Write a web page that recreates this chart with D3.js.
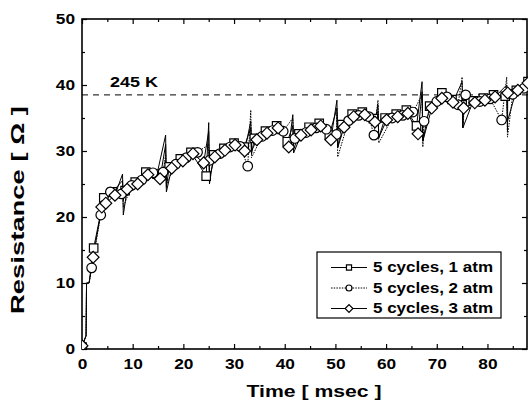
<!DOCTYPE html>
<html lang="en">
<head>
<meta charset="utf-8">
<title>Resistance vs time</title>
<script src="https://cdn.jsdelivr.net/npm/d3@7"></script>
<style>
  body { margin: 0; background: #fff; }
  svg { display: block; }
  .tick text { font-family: Arial, "Liberation Sans", sans-serif; font-weight: bold; font-size: 15px; fill: #000; }
  .tick line { stroke: #000; stroke-width: 1.2; }
  .title { font-family: Arial, "Liberation Sans", sans-serif; font-weight: bold; fill: #000; }
  .series { fill: none; stroke: #000; stroke-width: 1; }
  .mark { fill: #fff; stroke: #000; stroke-width: 1.2; }
</style>
</head>
<body>
<div id="chart"></div>
<script>
// ---- data ----
var xTicks = [0, 10, 20, 30, 40, 50, 60, 70, 80];
var yTicks = [0, 10, 20, 30, 40, 50];
var seriesNames = ["5 cycles, 1 atm", "5 cycles, 2 atm", "5 cycles, 3 atm"];
var refLevel = 38.5;
var refLabel = "245 K";

// initial rise shared by all runs
var riseT = [0.8, 0.9, 1.4];
var riseV = [2, 10, 10];

// spike (pulse) times
var spikeT = [8.0, 16.5, 25.0, 33.3, 41.6, 50.3, 58.4, 67.1, 75.0, 83.8];

// 1 atm (squares)
var t1 = [0, 2.3, 4.3, 6.0, 8.5, 10.5, 12.6, 14.8, 17.2, 19.4, 21.5, 24.5, 26.0, 28.0, 30.0, 32.0, 34.0, 36.2, 38.4, 40.5, 42.8, 44.8, 46.8, 48.8, 51.3, 53.3, 55.3, 57.5, 59.8, 62.0, 64.0, 66.0, 68.6, 71.0, 73.0, 75.0, 77.2, 79.2, 81.2, 83.5, 85.7, 88];
var r1 = [0.3, 15.3, 22.9, 23.8, 24.0, 25.3, 26.8, 26.5, 27.6, 28.8, 29.8, 26.2, 29.4, 30.4, 31.2, 30.6, 31.9, 33.0, 33.8, 31.4, 32.6, 33.6, 34.2, 32.4, 34.0, 35.6, 35.9, 34.9, 35.0, 35.6, 36.2, 33.8, 36.8, 38.8, 37.8, 37.0, 37.6, 38.0, 38.5, 38.3, 39.2, 40.5];
var up1 = [25.5, 32.4, 34.3, 33.5, 33.8, 36.5, 36.0, 40.5, 38.5, 39.5];
var dn1 = [22.5, 24.5, 25.0, 29.5, 30.2, 30.5, 32.0, 31.5, 33.5, 34.5];

// 2 atm (circles)
var t2 = [0, 1.9, 3.7, 5.6, 7.8, 9.8, 11.8, 14.0, 16.0, 18.5, 20.6, 22.8, 25.2, 27.2, 29.2, 31.2, 32.7, 35.5, 37.6, 39.7, 42.0, 44.2, 46.2, 48.2, 50.2, 52.6, 54.6, 56.6, 57.6, 61.2, 63.3, 65.3, 67.5, 70.0, 72.0, 74.2, 75.7, 78.5, 80.5, 82.8, 85.0, 87.2];
var r2 = [0.4, 12.3, 20.3, 23.8, 23.5, 24.8, 25.6, 26.7, 26.8, 28.0, 29.0, 29.8, 28.6, 29.6, 30.6, 30.7, 27.7, 32.2, 33.1, 33.0, 31.9, 32.8, 33.5, 33.3, 32.5, 34.6, 35.4, 35.2, 32.4, 35.0, 35.4, 35.9, 34.5, 37.5, 38.2, 37.0, 38.5, 37.5, 37.9, 34.7, 38.6, 39.5];
var up2 = [24.5, 29.5, 31.0, 36.2, 35.0, 35.8, 37.7, 38.5, 41.2, 41.2];
var dn2 = [21.5, 25.0, 26.5, 29.0, 31.0, 29.1, 31.2, 30.6, 34.0, 32.1];

// 3 atm (diamonds)
var t3 = [0, 2.2, 3.9, 4.7, 6.5, 8.9, 11.0, 13.0, 15.4, 17.7, 19.9, 21.9, 24.0, 26.2, 28.2, 30.2, 32.1, 34.5, 36.5, 38.7, 40.8, 43.2, 45.2, 47.1, 49.1, 51.7, 53.6, 55.8, 57.8, 60.1, 62.3, 64.3, 66.3, 69.0, 71.0, 73.2, 75.3, 77.5, 79.5, 81.5, 84.0, 86.0, 88];
var r3 = [0.5, 13.9, 21.5, 22.1, 23.3, 24.2, 25.0, 26.4, 25.8, 27.4, 28.5, 29.6, 28.2, 29.1, 30.1, 30.9, 30.0, 31.7, 32.7, 33.5, 30.6, 32.4, 33.2, 33.8, 31.7, 33.6, 35.2, 35.5, 34.4, 34.7, 35.2, 35.7, 32.6, 36.5, 38.0, 37.4, 36.5, 37.3, 37.7, 38.2, 38.8, 39.2, 40.3];
var up3 = [26.5, 31.0, 33.0, 34.5, 35.5, 37.7, 37.0, 39.0, 40.5, 40.0];
var dn3 = [20.3, 23.8, 26.0, 30.0, 29.7, 30.5, 32.0, 31.5, 33.5, 33.0];

// ---- layout ----
var W = 529, H = 401;
var plot = {left: 82, right: 528, top: 19, bottom: 349};

var svg = d3.select("#chart").append("svg")
    .attr("width", W).attr("height", H);

var x = d3.scaleLinear().domain([0, 88]).range([plot.left, plot.right]);
var y = d3.scaleLinear().domain([0, 50]).range([plot.bottom, plot.top]);

svg.append("clipPath").attr("id", "clip")
   .append("rect")
   .attr("x", plot.left).attr("y", plot.top)
   .attr("width", plot.right - plot.left).attr("height", plot.bottom - plot.top);

// axes, ticks pointing inward on all four sides
function minorOf(ticks) {
    return ticks.slice(0, -1).map(function(d, i) { return (d + ticks[i + 1]) / 2; });
}
var xMinor = minorOf(xTicks).concat([85]);
var yMinor = minorOf(yTicks);

function digitsLen(d) { return String(d).length * 9.6; }

svg.append("g")
   .attr("transform", "translate(0," + plot.bottom + ")")
   .call(d3.axisBottom(x).tickValues(xTicks).tickSize(-5).tickPadding(9).tickSizeOuter(0))
   .call(function(g) { g.select(".domain").remove(); })
   .selectAll("text").attr("textLength", digitsLen).attr("lengthAdjust", "spacingAndGlyphs");

svg.append("g")
   .attr("transform", "translate(0," + plot.bottom + ")")
   .call(d3.axisBottom(x).tickValues(xMinor).tickSize(-3).tickFormat(""))
   .call(function(g) { g.select(".domain").remove(); });

svg.append("g")
   .attr("transform", "translate(0," + plot.top + ")")
   .call(d3.axisTop(x).tickValues(xTicks).tickSize(-5).tickFormat(""))
   .call(function(g) { g.select(".domain").remove(); });

svg.append("g")
   .attr("transform", "translate(0," + plot.top + ")")
   .call(d3.axisTop(x).tickValues(xMinor).tickSize(-3).tickFormat(""))
   .call(function(g) { g.select(".domain").remove(); });

svg.append("g")
   .attr("transform", "translate(" + plot.left + ",0)")
   .call(d3.axisLeft(y).tickValues(yTicks).tickSize(-5).tickPadding(7))
   .call(function(g) { g.select(".domain").remove(); })
   .selectAll("text").attr("textLength", digitsLen).attr("lengthAdjust", "spacingAndGlyphs");

svg.append("g")
   .attr("transform", "translate(" + plot.left + ",0)")
   .call(d3.axisLeft(y).tickValues(yMinor).tickSize(-3).tickFormat(""))
   .call(function(g) { g.select(".domain").remove(); });

svg.append("g")
   .attr("transform", "translate(" + (plot.right - 1) + ",0)")
   .call(d3.axisRight(y).tickValues(yTicks).tickSize(-5).tickFormat(""))
   .call(function(g) { g.select(".domain").remove(); });

svg.append("g")
   .attr("transform", "translate(" + (plot.right - 1) + ",0)")
   .call(d3.axisRight(y).tickValues(yMinor).tickSize(-3).tickFormat(""))
   .call(function(g) { g.select(".domain").remove(); });

// frame
svg.append("rect")
   .attr("x", plot.left).attr("y", plot.top)
   .attr("width", plot.right - 1 - plot.left).attr("height", plot.bottom - plot.top)
   .attr("fill", "none").attr("stroke", "#000").attr("stroke-width", 1.6);

// reference level
svg.append("line")
   .attr("x1", x(0)).attr("x2", x(88))
   .attr("y1", y(refLevel)).attr("y2", y(refLevel))
   .attr("stroke", "#000").attr("stroke-width", 1)
   .attr("stroke-dasharray", "6,5");

svg.append("text").attr("class", "title")
   .attr("x", 110).attr("y", 87)
   .attr("font-size", 15)
   .attr("textLength", 48).attr("lengthAdjust", "spacingAndGlyphs")
   .text(refLabel);

// ---- series ----
var series = [
    {t: t1, r: r1, up: up1, dn: dn1, sym: "square", dash: null},
    {t: t2, r: r2, up: up2, dn: dn2, sym: "circle", dash: "1.5,1.2"},
    {t: t3, r: r3, up: up3, dn: dn3, sym: "diamond", dash: null}
];

function linePoints(s) {
    var pts = s.t.map(function(d, i) { return [d, s.r[i]]; });
    riseT.forEach(function(d, i) { pts.push([d, riseV[i]]); });
    spikeT.forEach(function(d, i) {
        pts.push([d, s.up[i]]);
        pts.push([d + 0.15, s.dn[i]]);
    });
    return pts.sort(function(a, b) { return a[0] - b[0]; });
}

function symbolPath(sym, big) {
    if (sym === "circle") return d3.symbol(d3.symbolCircle, big ? 72 : 28)();
    if (sym === "square") return d3.symbol(d3.symbolSquare, big ? 72 : 26)();
    return d3.symbol(d3.symbolSquare, big ? 70 : 30)();
}

var line = d3.line()
    .x(function(d) { return x(d[0]); })
    .y(function(d) { return y(d[1]); });

var plt = svg.append("g").attr("clip-path", "url(#clip)");

series.forEach(function(s) {
    plt.append("path")
       .datum(linePoints(s))
       .attr("class", "series")
       .attr("stroke-dasharray", s.dash)
       .attr("d", line);
});

series.forEach(function(s) {
    plt.append("g").selectAll("path")
       .data(s.t.map(function(d, i) { return [d, s.r[i]]; }))
       .enter().append("path")
       .attr("class", "mark")
       .attr("d", symbolPath(s.sym, true))
       .attr("transform", function(d) {
           return "translate(" + x(d[0]) + "," + y(d[1]) + ")" + (s.sym === "diamond" ? " rotate(45)" : "");
       });
});

// ---- legend ----
var legend = svg.append("g");
legend.append("rect")
      .attr("x", 317).attr("y", 252).attr("width", 184).attr("height", 66)
      .attr("fill", "#fff").attr("stroke", "#000").attr("stroke-width", 1.2);

series.forEach(function(s, i) {
    var by = 272 + i * 20.5;
    legend.append("line")
          .attr("x1", 331).attr("x2", 367)
          .attr("y1", by - 4.5).attr("y2", by - 4.5)
          .attr("stroke", "#000").attr("stroke-width", 1)
          .attr("stroke-dasharray", s.dash);
    legend.append("path")
          .attr("class", "mark")
          .attr("d", symbolPath(s.sym, false))
          .attr("transform", "translate(349," + (by - 4.5) + ")" + (s.sym === "diamond" ? " rotate(45)" : ""));
    legend.append("text").attr("class", "title")
          .attr("x", 373).attr("y", by)
          .attr("font-size", 14)
          .attr("textLength", 120).attr("lengthAdjust", "spacingAndGlyphs")
          .text(seriesNames[i]);
});

// ---- axis titles ----
svg.append("text").attr("class", "title")
   .attr("text-anchor", "middle")
   .attr("transform", "translate(24,210) rotate(-90)")
   .attr("font-size", 18)
   .attr("textLength", 208).attr("lengthAdjust", "spacingAndGlyphs")
   .text("Resistance [ \u03A9 ]");

svg.append("text").attr("class", "title")
   .attr("text-anchor", "middle")
   .attr("x", 314).attr("y", 397)
   .attr("font-size", 17)
   .attr("textLength", 135).attr("lengthAdjust", "spacingAndGlyphs")
   .text("Time [ msec ]");
</script>
</body>
</html>
